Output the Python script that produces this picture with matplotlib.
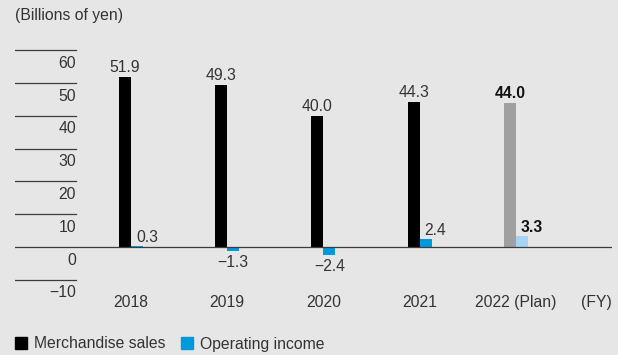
import numpy as np
import matplotlib.pyplot as plt
from matplotlib.patches import Patch
from matplotlib import transforms

plt.rcParams['font.family'] = ['Liberation Sans', 'DejaVu Sans']
plt.rcParams['font.size'] = 11.3

years = ['2018', '2019', '2020', '2021', '2022 (Plan)']
sales = [51.9, 49.3, 40.0, 44.3, 44.0]
income = [0.3, -1.3, -2.4, 2.4, 3.3]
grid_vals = [60, 50, 40, 30, 20, 10, -10]
tick_vals = [60, 50, 40, 30, 20, 10, 0, -10]

bg = '#e6e6e6'
txt = '#333333'
line_col = '#3c3c3c'
sales_cols = ['#000000'] * 4 + ['#a0a0a0']
income_cols = ['#0099dc'] * 4 + ['#a5d3f1']

W, H = 618, 355
fig = plt.figure(figsize=(W / 100, H / 100), dpi=100, facecolor=bg)
ax = fig.add_axes([15 / W, (H - 289) / H, (612 - 15) / W, 288 / H])
ax.set_facecolor(bg)
ax.set_xlim(-1.206, 5.0)
ax.set_ylim(-12.8, 75)
for s in ax.spines.values():
    s.set_visible(False)

x = np.arange(len(years))
bw = 0.125
ax.bar(x - bw / 2, sales, bw, color=sales_cols, zorder=2)
ax.bar(x + bw / 2, income, bw, color=income_cols, zorder=2)

# zero line across the plot, short rules at the other ticks
ax.axhline(0, color=line_col, lw=0.9, zorder=3)
for v in grid_vals:
    ax.axhline(v, xmin=0, xmax=61 / 597, color=line_col, lw=0.9)

ytr = transforms.blended_transform_factory(ax.transAxes, ax.transData)
for v in tick_vals:
    ax.annotate(str(v).replace('-', '\u2212'), xy=(61 / 597, v), xycoords=ytr,
                xytext=(0, -13), textcoords='offset pixels',
                ha='right', va='center', color=txt)

ax.set_xticks(x, years)
ax.tick_params(axis='x', length=0, pad=4.5, colors=txt, labelsize=11.3)
ax.set_yticks([])
ax.annotate('(FY)', xy=(1, 0), xycoords='axes fraction', xytext=(0, -6),
            textcoords='offset pixels', ha='right', va='top', color=txt)

for i, (s, v) in enumerate(zip(sales, income)):
    plan = i == len(years) - 1
    weight = 'bold' if plan else 'normal'
    col = '#111111' if plan else txt
    ax.annotate(f'{s:.1f}', xy=(i - bw / 2, s), xytext=(0, 2),
                textcoords='offset pixels', ha='center', va='bottom',
                color=col, fontweight=weight)
    if v >= 0:
        ax.annotate(f'{v:.1f}', xy=(i + bw / 2, v), xytext=(10, 1),
                    textcoords='offset pixels', ha='center', va='bottom',
                    color=col, fontweight=weight)
    else:
        ax.annotate(f'\u2212{abs(v):.1f}', xy=(i + bw / 2, v), xytext=(0, -4),
                    textcoords='offset pixels', ha='center', va='top',
                    color=col, fontweight=weight)

fig.text(15 / W, 1 - 8 / H, '(Billions of yen)', ha='left', va='top', color=txt)

handles = [Patch(color='#000000', label='Merchandise sales'),
           Patch(color='#0099dc', label='Operating income')]
fig.legend(handles=handles, loc='center left', bbox_to_anchor=(15 / W, 1 - 344 / H),
           ncol=2, frameon=False, handlelength=0.75, handleheight=0.75,
           handletextpad=0.45, columnspacing=1.0, borderaxespad=0, borderpad=0,
           labelcolor=txt)

fig.savefig('out.png', dpi=100, facecolor=bg)
